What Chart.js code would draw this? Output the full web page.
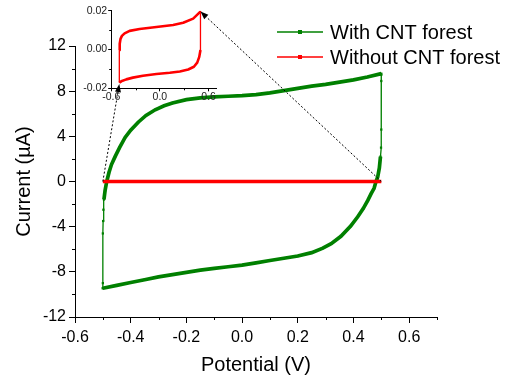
<!DOCTYPE html>
<html>
<head>
<meta charset="utf-8">
<script src="https://cdn.jsdelivr.net/npm/chart.js@4"></script>
<style>
  html, body { margin: 0; padding: 0; background: #fff; }
  #wrap { position: relative; width: 513px; height: 375px; }
  canvas { position: absolute; left: 0; top: 0; }
</style>
</head>
<body>
<div id="wrap">
  <canvas id="main" width="513" height="375"></canvas>
  <canvas id="inset" width="513" height="375"></canvas>
</div>
<script>
// ---------- data ----------
const seriesLabels = ['With CNT forest', 'Without CNT forest'];

// With CNT forest: potential (V) and current (µA), one closed CV loop
const greenV = [-0.500, -0.500, -0.500, -0.499, -0.498, -0.496, -0.492, -0.486, -0.478, -0.469, -0.456, -0.440, -0.420, -0.400, -0.373, -0.345, -0.312, -0.280, -0.250, -0.200, -0.150, -0.100, -0.050, 0.000, 0.050, 0.100, 0.150, 0.200, 0.250, 0.300, 0.350, 0.400, 0.450, 0.500,
                0.500, 0.500, 0.500, 0.499, 0.497, 0.493, 0.487, 0.481, 0.474, 0.463, 0.452, 0.435, 0.416, 0.390, 0.355, 0.320, 0.290, 0.250, 0.200, 0.150, 0.100, 0.050, 0.000, -0.050, -0.100, -0.150, -0.200, -0.250, -0.300, -0.350, -0.400, -0.450, -0.500];
const greenI = [-9.45, -9.0, -4.6, -3.5, -2.5, -1.6, -0.8, 0.0, 0.8, 1.5, 2.2, 3.0, 3.9, 4.55, 5.25, 5.85, 6.35, 6.7, 6.95, 7.25, 7.4, 7.5, 7.55, 7.6, 7.7, 7.85, 8.05, 8.25, 8.45, 8.6, 8.8, 9.0, 9.25, 9.55,
                9.45, 8.9, 4.6, 3.0, 2.2, 1.2, 0.4, 0.0, -0.6, -1.1, -1.65, -2.4, -3.1, -3.95, -4.85, -5.5, -5.9, -6.3, -6.6, -6.8, -7.0, -7.2, -7.4, -7.55, -7.7, -7.85, -8.05, -8.25, -8.45, -8.7, -8.95, -9.2, -9.45];

// Without CNT forest, as it appears on the main scale (flat at 0 µA)
const redV = [-0.5, -0.25, 0.0, 0.25, 0.5];
const redI = [0, 0, 0, 0, 0];

// Without CNT forest, inset (µA)
const insetV = [-0.5, -0.5, -0.5, -0.495, -0.485, -0.468, -0.435, -0.373, -0.25, -0.043, 0.163, 0.287, 0.41, 0.493, 0.5,
                0.5, 0.5, 0.485, 0.46, 0.419, 0.349, 0.246, 0.122, -0.043, -0.209, -0.333, -0.414, -0.476, -0.5];
const insetI = [-0.0171, -0.0089, -0.0003, 0.0030, 0.0055, 0.0070, 0.0083, 0.0096, 0.0106, 0.0116, 0.0126, 0.0138, 0.0159, 0.0193, 0.0198,
                0.0082, -0.0003, -0.0038, -0.0068, -0.0089, -0.0103, -0.0113, -0.0120, -0.0126, -0.0135, -0.0145, -0.0154, -0.0164, -0.0171];

// ticks
const xMajorTicks = [-0.6, -0.4, -0.2, 0.0, 0.2, 0.4, 0.6];
const xMinorTicks = [-0.5, -0.3, -0.1, 0.1, 0.3, 0.5, 0.7];
const yMajorTicks = [-12, -8, -4, 0, 4, 8, 12];
const yMinorTicks = [-10, -6, -2, 2, 6, 10];
const insetXMajor = [-0.6, 0.0, 0.6];
const insetXMinor = [-0.3, 0.3];
const insetYMajor = [-0.02, 0.0, 0.02];
const insetYMinor = [-0.01, 0.01];

// zoom arrows: from main (V, µA) to inset (V, µA)
const arrowFrom = [[-0.5, 0], [0.5, 0]];
const arrowTo = [[-0.5, -0.0178], [0.5, 0.0196]];

const xTitle = 'Potential (V)';
const yTitle = 'Current (\u00B5A)';

// ---------- helpers ----------
const GREEN = '#008000';
const RED = '#ff0000';
Chart.defaults.font.family = "'Liberation Sans', Arial, sans-serif";
Chart.defaults.color = '#000';

const pts = (xs, ys) => xs.map((v, i) => ({ x: v, y: ys[i] }));
const setTicks = arr => scale => { scale.ticks = arr.map(v => ({ value: v })); };

function drawMinor(chart, id, values, len) {
  const s = chart.scales[id];
  const ctx = chart.ctx;
  ctx.save();
  ctx.strokeStyle = '#000';
  ctx.lineWidth = 1;
  ctx.beginPath();
  values.forEach(v => {
    const p = Math.round(s.getPixelForValue(v)) + 0.5;
    if (s.isHorizontal()) {
      ctx.moveTo(p, s.top); ctx.lineTo(p, s.top + len);
    } else {
      ctx.moveTo(s.right - len, p); ctx.lineTo(s.right, p);
    }
  });
  ctx.stroke();
  ctx.restore();
}

// ---------- main chart ----------
const legendPlugin = {
  id: 'cvLegend',
  afterDraw(chart) {
    const ctx = chart.ctx;
    const rows = [{ y: 32, ds: chart.data.datasets[0] }, { y: 57, ds: chart.data.datasets[1] }];
    ctx.save();
    rows.forEach(r => {
      ctx.strokeStyle = r.ds.borderColor;
      ctx.lineWidth = 1.5;
      ctx.beginPath();
      ctx.moveTo(277, r.y); ctx.lineTo(323, r.y);
      ctx.stroke();
      ctx.fillStyle = r.ds.borderColor;
      ctx.fillRect(298, r.y - 2, 4, 4);
      ctx.fillStyle = '#000';
      ctx.font = "20px 'Liberation Sans', Arial, sans-serif";
      ctx.textBaseline = 'middle';
      ctx.textAlign = 'left';
      ctx.fillText(r.ds.label, 330, r.y + 1);
    });
    ctx.restore();
  }
};

const minorMain = {
  id: 'minorMain',
  afterDraw(chart) {
    drawMinor(chart, 'x', xMinorTicks, 3);
    drawMinor(chart, 'y', yMinorTicks, 3);
  }
};

const mainChart = new Chart(document.getElementById('main'), {
  type: 'scatter',
  data: {
    datasets: [
      {
        label: seriesLabels[0],
        data: pts(greenV, greenI),
        showLine: true,
        borderColor: GREEN,
        backgroundColor: GREEN,
        borderWidth: 3.7,
        pointStyle: 'rect',
        pointRadius: 1.6,
        pointBorderWidth: 0,
        pointBackgroundColor: GREEN,
        tension: 0,
        order: 1,
        segment: {
          borderWidth: c => Math.abs(c.p1.parsed.x - c.p0.parsed.x) < 0.004 ? 1.3 : 3.7
        }
      },
      {
        label: seriesLabels[1],
        data: pts(redV, redI),
        showLine: true,
        borderColor: RED,
        backgroundColor: RED,
        borderWidth: 3.5,
        pointRadius: 0,
        order: 0
      }
    ]
  },
  options: {
    responsive: false,
    animation: false,
    events: [],
    devicePixelRatio: 1,
    layout: { padding: { left: 0, top: 46, right: 76, bottom: 0 } },
    plugins: { legend: { display: false }, tooltip: { enabled: false } },
    scales: {
      x: {
        type: 'linear',
        min: -0.6, max: 0.7,
        afterBuildTicks: setTicks(xMajorTicks),
        afterFit: s => { s.height = 58; },
        border: { display: true, color: '#000', width: 1 },
        grid: { drawOnChartArea: false, drawTicks: true, tickLength: 6, color: '#000' },
        ticks: {
          autoSkip: false, maxRotation: 0, padding: 5,
          font: { size: 16 }, color: '#000',
          callback: v => Number(v).toFixed(1)
        },
        title: { display: true, text: xTitle, font: { size: 20 }, color: '#000', padding: { top: 0, bottom: -2 } }
      },
      y: {
        type: 'linear',
        min: -12, max: 12,
        afterBuildTicks: setTicks(yMajorTicks),
        afterFit: s => { s.width = 75; },
        border: { display: true, color: '#000', width: 1 },
        grid: { drawOnChartArea: false, drawTicks: true, tickLength: 6, color: '#000' },
        ticks: {
          autoSkip: false, padding: 3,
          font: { size: 16 }, color: '#000',
          callback: v => String(v)
        },
        title: { display: true, text: yTitle, font: { size: 20 }, color: '#000', padding: { top: 12, bottom: 0 } }
      }
    }
  },
  plugins: [legendPlugin, minorMain]
});

// ---------- inset chart ----------
const insetExtras = {
  id: 'insetExtras',
  afterDraw(chart) {
    drawMinor(chart, 'x', insetXMinor, 2);
    drawMinor(chart, 'y', insetYMinor, 2);
    const ctx = chart.ctx;
    const mx = mainChart.scales.x, my = mainChart.scales.y;
    const ix = chart.scales.x, iy = chart.scales.y;
    ctx.save();
    arrowFrom.forEach((f, i) => {
      const x0 = mx.getPixelForValue(f[0]), y0 = my.getPixelForValue(f[1]);
      const x1 = ix.getPixelForValue(arrowTo[i][0]), y1 = iy.getPixelForValue(arrowTo[i][1]);
      const ang = Math.atan2(y1 - y0, x1 - x0);
      const L = 8, W = 3;
      const bx = x1 - L * Math.cos(ang), by = y1 - L * Math.sin(ang);
      ctx.strokeStyle = '#000';
      ctx.lineWidth = 1;
      ctx.setLineDash([2, 2]);
      ctx.beginPath();
      ctx.moveTo(x0, y0); ctx.lineTo(bx, by);
      ctx.stroke();
      ctx.setLineDash([]);
      ctx.fillStyle = '#000';
      ctx.beginPath();
      ctx.moveTo(x1, y1);
      ctx.lineTo(bx + W * Math.sin(ang), by - W * Math.cos(ang));
      ctx.lineTo(bx - W * Math.sin(ang), by + W * Math.cos(ang));
      ctx.closePath();
      ctx.fill();
    });
    ctx.restore();
  }
};

const insetChart = new Chart(document.getElementById('inset'), {
  type: 'scatter',
  data: {
    datasets: [{
      label: seriesLabels[1],
      data: pts(insetV, insetI),
      showLine: true,
      borderColor: RED,
      borderWidth: 2.6,
      pointRadius: 0,
      tension: 0,
      borderJoinStyle: 'round',
      segment: {
        borderWidth: c => Math.abs(c.p1.parsed.x - c.p0.parsed.x) < 0.004 ? 1.3 : 2.6
      }
    }]
  },
  options: {
    responsive: false,
    animation: false,
    events: [],
    devicePixelRatio: 1,
    layout: { padding: { left: 0, top: 10.7, right: 296.3, bottom: 265 } },
    plugins: { legend: { display: false }, tooltip: { enabled: false } },
    scales: {
      x: {
        type: 'linear',
        min: -0.6, max: 0.7,
        afterBuildTicks: setTicks(insetXMajor),
        afterFit: s => { s.height = 21.7; },
        border: { display: true, color: '#000', width: 1 },
        grid: { drawOnChartArea: false, drawTicks: true, tickLength: 3, color: '#000' },
        ticks: {
          autoSkip: false, maxRotation: 0, padding: 0,
          font: { size: 10.5 }, color: '#222',
          callback: v => Number(v).toFixed(1)
        }
      },
      y: {
        type: 'linear',
        min: -0.02, max: 0.02,
        afterBuildTicks: setTicks(insetYMajor),
        afterFit: s => { s.width = 111.2; },
        border: { display: true, color: '#000', width: 1 },
        grid: { drawOnChartArea: false, drawTicks: true, tickLength: 3, color: '#000' },
        ticks: {
          autoSkip: false, padding: 1,
          font: { size: 10.5 }, color: '#222',
          callback: v => Number(v).toFixed(2)
        }
      }
    }
  },
  plugins: [insetExtras]
});
</script>
</body>
</html>
